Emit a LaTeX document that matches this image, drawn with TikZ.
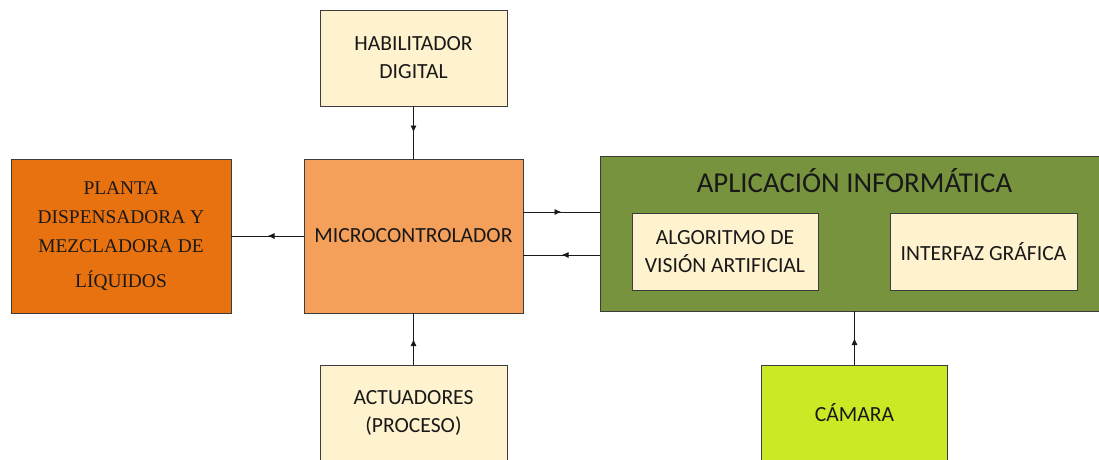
\documentclass[tikz,border=0pt]{standalone}
\usepackage{fontspec}
\setmainfont{Carlito}
\newfontfamily\timesfont{Liberation Serif}
\usetikzlibrary{arrows.meta,decorations.markings}

\definecolor{plantaorange}{RGB}{232,114,16}
\definecolor{microorange}{RGB}{245,160,90}
\definecolor{paleyellow}{RGB}{255,242,206}
\definecolor{appgreen}{RGB}{119,147,62}
\definecolor{camlime}{RGB}{203,233,36}
\definecolor{edgegray}{RGB}{60,60,60}
\definecolor{inkdark}{RGB}{25,25,25}

\tikzset{
  blockbox/.style={draw=edgegray, line width=0.9pt, align=center, inner sep=0pt,
    text=inkdark, font=\fontsize{21.6}{28}\selectfont},
  midarrow/.style={draw=inkdark, line width=0.9pt, postaction={decorate},
    decoration={markings, mark=at position 0.5 with {\arrow{Latex[length=7pt,width=6pt]}}}}
}

\begin{document}
\begin{tikzpicture}[x=1pt,y=-1pt]
  \useasboundingbox (0,0) rectangle (1099,459);
  \clip (0,0) rectangle (1099,459);

  % main blocks
  \node[blockbox, fill=paleyellow, minimum width=187pt, minimum height=96pt]
    (hab) at (413.5,58) {HABILITADOR\\DIGITAL};
  \node[blockbox, fill=microorange, minimum width=219pt, minimum height=154pt]
    (micro) at (413.5,236) {MICROCONTROLADOR};
  \node[blockbox, fill=plantaorange, minimum width=220pt, minimum height=154pt,
    font=\timesfont\fontsize{19.4}{29}\selectfont]
    (planta) at (121,236) {PLANTA\\DISPENSADORA Y\\MEZCLADORA DE\\[6pt]LÍQUIDOS};
  \node[blockbox, fill=paleyellow, minimum width=187pt, minimum height=96pt]
    (act) at (413.5,413) {ACTUADORES\\(PROCESO)};

  % application block with its two inner blocks
  \node[blockbox, fill=appgreen, minimum width=509pt, minimum height=155pt]
    (app) at (854.5,233.5) {};
  \node[text=inkdark, font=\fontsize{28.8}{32}\selectfont, inner sep=0pt]
    (apptitle) at (854.5,181) {APLICACIÓN INFORMÁTICA};
  \node[blockbox, fill=paleyellow, minimum width=186pt, minimum height=77pt]
    (algo) at (725,251.5) {ALGORITMO DE\\VISIÓN ARTIFICIAL};
  \node[blockbox, fill=paleyellow, minimum width=187pt, minimum height=77pt]
    (gui) at (983.5,251.5) {INTERFAZ GRÁFICA};

  \node[blockbox, fill=camlime, minimum width=186pt, minimum height=96pt]
    (cam) at (854.5,413) {CÁMARA};

  % connectors
  \draw[midarrow] (hab.south) -- (micro.north);
  \draw[midarrow] (act.north) -- (micro.south);
  \draw[midarrow] (micro.west) -- (planta.east);
  \draw[midarrow] (micro.east |- 0,212) -- (app.west |- 0,212);
  \draw[midarrow] (app.west |- 0,255) -- (micro.east |- 0,255);
  \draw[midarrow] (cam.north) -- (app.south);
\end{tikzpicture}
\end{document}
